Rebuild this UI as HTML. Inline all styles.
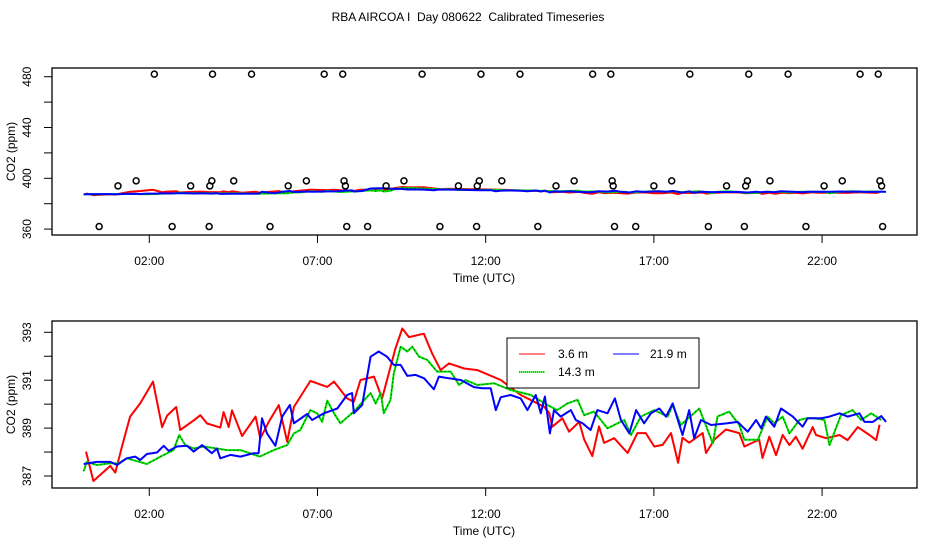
<!DOCTYPE html>
<html><head><meta charset="utf-8"><style>
body{margin:0;background:#fff}
svg{display:block;font-family:"Liberation Sans",Arial,sans-serif}
</style></head><body>
<svg id="chart" width="936" height="540" viewBox="0 0 936 540"></svg>
<script>
// ---- data ----
const redT=[0.12,0.34,0.84,0.99,1.19,1.43,1.73,2.11,2.38,2.53,2.80,2.92,3.32,3.52,3.72,4.11,4.21,4.36,4.46,4.76,5.16,5.30,5.55,5.85,6.10,6.30,6.79,7.29,7.49,7.88,8.08,8.28,8.68,8.92,9.32,9.52,9.72,10.16,10.41,10.66,10.91,11.36,11.75,12.45,13.04,13.74,13.89,13.98,14.28,14.48,14.78,14.93,15.17,15.37,15.52,15.82,16.22,16.51,16.76,17.01,17.26,17.51,17.72,17.85,18.05,18.45,18.55,18.80,19.14,19.54,19.69,20.13,20.23,20.43,20.63,20.83,21.03,21.22,21.42,21.72,21.82,22.12,22.52,22.76,23.06,23.41,23.61,23.71];
const redV=[388.02,386.79,387.42,387.14,388.23,389.48,390.03,390.94,389.04,389.52,389.88,388.92,389.32,389.54,389.19,389.02,389.67,389.04,389.74,388.67,389.48,388.57,389.26,389.96,388.43,389.88,390.97,390.72,390.94,390.24,390.10,391.01,391.15,390.24,392.33,393.16,392.80,392.94,392.11,391.42,391.70,391.49,391.42,391.01,390.38,389.89,389.62,389.06,389.41,388.85,389.26,388.52,387.83,389.07,388.38,388.58,387.96,388.79,388.79,388.23,388.30,388.79,387.55,388.60,388.39,388.79,387.96,388.52,388.94,388.79,388.23,388.52,387.75,388.64,387.87,388.71,388.29,388.64,388.14,389.04,388.71,388.58,388.71,388.50,389.04,388.71,388.50,389.14];
const greenT=[0.05,0.14,0.44,0.84,1.09,1.33,1.93,2.33,2.72,2.89,3.07,3.32,3.62,4.31,4.71,5.28,5.70,6.10,6.30,6.49,6.79,6.99,7.14,7.29,7.49,7.68,8.08,8.58,8.73,8.88,8.97,9.17,9.27,9.47,9.67,9.82,10.02,10.26,10.56,10.96,11.21,11.40,11.75,12.25,12.74,13.34,13.83,14.13,14.43,14.73,14.93,15.22,15.62,16.12,16.32,16.61,17.01,17.41,17.56,17.80,18.35,18.75,18.89,19.24,19.54,19.69,20.09,20.38,20.58,20.83,21.03,21.33,21.52,21.77,22.07,22.22,22.56,22.91,23.16,23.46,23.76];
const greenV=[387.20,387.59,387.46,387.53,387.53,387.74,387.50,387.81,388.08,388.71,388.29,388.15,388.23,388.08,388.08,387.81,388.08,388.29,388.78,388.92,389.75,389.62,389.26,390.15,389.62,389.20,389.69,390.46,390.03,390.46,389.62,390.18,391.29,392.40,392.20,392.40,391.98,391.85,391.36,391.36,390.80,391.01,390.80,390.87,390.59,390.38,389.97,389.75,390.03,390.18,389.54,389.69,388.99,389.34,388.71,389.48,389.75,389.48,389.97,389.13,389.82,388.36,389.48,389.69,389.13,388.51,388.51,389.48,389.20,389.48,388.78,389.34,389.41,389.41,389.34,388.29,389.54,389.75,389.34,389.62,389.34];
const blueT=[0.05,0.44,0.84,1.04,1.33,1.58,1.73,1.93,2.23,2.43,2.58,2.82,3.12,3.32,3.57,3.86,4.01,4.11,4.41,4.71,5.10,5.25,5.35,5.50,5.75,5.95,6.18,6.30,6.69,6.84,7.19,7.59,7.88,8.03,8.08,8.33,8.58,8.82,9.07,9.27,9.47,9.67,9.92,10.17,10.46,10.61,10.91,11.26,11.65,11.90,12.15,12.30,12.45,12.74,13.04,13.24,13.49,13.64,13.76,13.91,14.03,14.23,14.53,14.68,14.88,15.12,15.32,15.62,15.84,16.02,16.27,16.47,16.71,16.91,17.16,17.36,17.56,17.85,18.05,18.20,18.40,18.70,19.19,19.49,19.79,20.04,20.19,20.33,20.58,20.78,21.13,21.42,21.57,21.97,22.22,22.52,22.76,23.11,23.26,23.51,23.76,23.90];
const blueV=[387.50,387.59,387.59,387.46,387.74,387.81,387.67,387.92,387.98,388.26,388.05,388.23,388.26,388.02,388.29,387.95,388.15,387.74,387.88,387.81,387.95,387.95,389.41,388.78,388.26,389.48,389.97,389.20,389.59,389.34,389.62,389.82,390.38,390.46,389.62,389.97,391.98,392.20,391.98,391.64,391.64,391.18,391.22,391.08,390.62,391.15,391.08,391.01,390.71,390.66,390.66,389.75,390.29,390.38,390.24,389.75,390.38,389.62,390.32,388.78,389.75,389.48,389.75,389.34,389.20,388.92,389.75,389.62,390.24,389.34,388.78,389.75,389.20,389.62,389.82,389.48,390.03,388.71,389.75,388.58,389.34,389.13,389.20,389.26,388.85,389.34,388.99,389.48,389.06,389.82,389.48,389.06,389.41,389.41,389.48,389.62,389.48,389.62,389.26,389.26,389.50,389.26];
const flagHiT=[2.15,3.88,5.04,7.20,7.75,10.11,11.86,13.02,15.18,15.72,18.07,19.82,20.99,23.13,23.67];
const flagLoT=[0.51,2.68,3.78,5.59,7.87,8.49,10.64,11.73,13.55,15.83,16.46,18.62,19.69,21.52,23.80];
const flagM1T=[1.61,3.86,4.51,6.67,7.79,9.57,11.81,12.48,14.63,15.76,17.53,19.78,20.45,22.60,23.72];
const flagM2T=[1.07,3.23,3.80,6.13,7.83,9.04,11.19,11.75,14.09,15.79,17.00,19.16,19.73,22.06,23.77];
const flagHiV=482, flagLoV=362, flagM1V=398, flagM2V=394;
const xTickHours=[2,7,12,17,22];
const xTickLabels=["02:00","07:00","12:00","17:00","22:00"];
const topYTicks=[360,380,400,420,440,460,480];
const topYLabels=[360,400,440,480];
const botYTicks=[387,388,389,390,391,392,393];
const botYLabels=[387,389,391,393];

const NS="http://www.w3.org/2000/svg";
const svg=document.getElementById('chart');
function mk(tag,attrs,parent){const e=document.createElementNS(NS,tag);for(const k in attrs)e.setAttribute(k,attrs[k]);(parent||svg).appendChild(e);return e;}
const X=t=>82+33.64*t;
const L=52,R=917;

const title=mk('text',{x:468,y:21,'text-anchor':'middle','font-size':12,style:'white-space:pre'});
title.textContent="RBA AIRCOA I  Day 080622  Calibrated Timeseries";



function panel(name,top,bot,Y,yTicks,yLabels,series){
  const g=mk('g',{});
  
  
  const box=mk('rect',{x:L,y:top,width:R-L,height:bot-top,fill:'none',stroke:'#000','stroke-width':1.3},g);
  
  
  xTickHours.forEach((h,i)=>{
    const tk=mk('line',{x1:X(h),x2:X(h),y1:bot,y2:bot+8,stroke:'#000','stroke-width':1},g);
    
    
    const tl=mk('text',{x:X(h),y:bot+30,'text-anchor':'middle','font-size':12},g);
    tl.textContent=xTickLabels[i];
    
    
  });
  const xt=mk('text',{x:484,y:bot+47,'text-anchor':'middle','font-size':12},g);
  xt.textContent="Time (UTC)";
  
  
  yTicks.forEach(v=>{
    const tk=mk('line',{x1:L-8,x2:L,y1:Y(v),y2:Y(v),stroke:'#000','stroke-width':1},g);
    
    
  });
  yLabels.forEach(v=>{
    const tl=mk('text',{x:0,y:0,'text-anchor':'middle','font-size':12,transform:`translate(31,${Y(v)}) rotate(-90)`},g);
    tl.textContent=String(v);
    
    
  });
  const yt=mk('text',{x:0,y:0,'text-anchor':'middle','font-size':12,transform:`translate(15,${(top+bot)/2}) rotate(-90)`},g);
  yt.textContent="CO2 (ppm)";
  
  
  series.forEach(s=>{
    const d=s.t.map((t,i)=>(i?'L':'M')+X(t).toFixed(1)+','+Y(s.v[i]).toFixed(1)).join('');
    const p=mk('path',{d:d,fill:'none',stroke:s.c,'stroke-width':2,'stroke-linejoin':'round'},g);
    
    
    if(s.dot){
      const p2=mk('path',{d:d,fill:'none',stroke:'#000','stroke-width':0.7,'stroke-dasharray':'1,3'},g);
      
      
    }
  });
  return g;
}
const series=[
  {t:redT,v:redV,c:'#ff0000',n:'series-3-6m'},
  {t:greenT,v:greenV,c:'#00e000',n:'series-14-3m',dot:true},
  {t:blueT,v:blueV,c:'#0000ff',n:'series-21-9m'}
];
const Ytop=v=>178.3-(v-400)*1.27;
const gTop=panel('top-panel',68,235,Ytop,topYTicks,topYLabels,series);
[[flagHiT,flagHiV],[flagLoT,flagLoV],[flagM1T,flagM1V],[flagM2T,flagM2V]].forEach(([ts,v])=>{
  ts.forEach(t=>{
    const c=mk('circle',{cx:X(t),cy:Ytop(v),r:3,fill:'none',stroke:'#000','stroke-width':1.5},gTop);
    
    
  });
});
const Ybot=v=>476-(v-387)*23.95;
panel('bottom-panel',321,488,Ybot,botYTicks,botYLabels,series);

// legend
const lg=mk('g',{});


mk('rect',{x:507,y:338,width:192,height:50,fill:'#fff',stroke:'#000','stroke-width':1},lg);
const entries=[
  {x:519,y:354,c:'#ff0000',txt:'3.6 m',tx:558,dot:false},
  {x:613,y:354,c:'#0000ff',txt:'21.9 m',tx:650,dot:false},
  {x:519,y:372,c:'#00e000',txt:'14.3 m',tx:558,dot:true}
];
entries.forEach(e=>{
  const eg=mk('g',{},lg);
  
  
  mk('line',{x1:e.x,x2:e.x+26,y1:e.y,y2:e.y,stroke:e.c,'stroke-width':1},eg);
  if(e.dot) mk('line',{x1:e.x,x2:e.x+26,y1:e.y,y2:e.y,stroke:'#000','stroke-width':1,'stroke-dasharray':'1,1'},eg);
  const t=mk('text',{x:e.tx,y:e.y+4,'font-size':12},eg);
  t.textContent=e.txt;
});
</script>
</body></html>
